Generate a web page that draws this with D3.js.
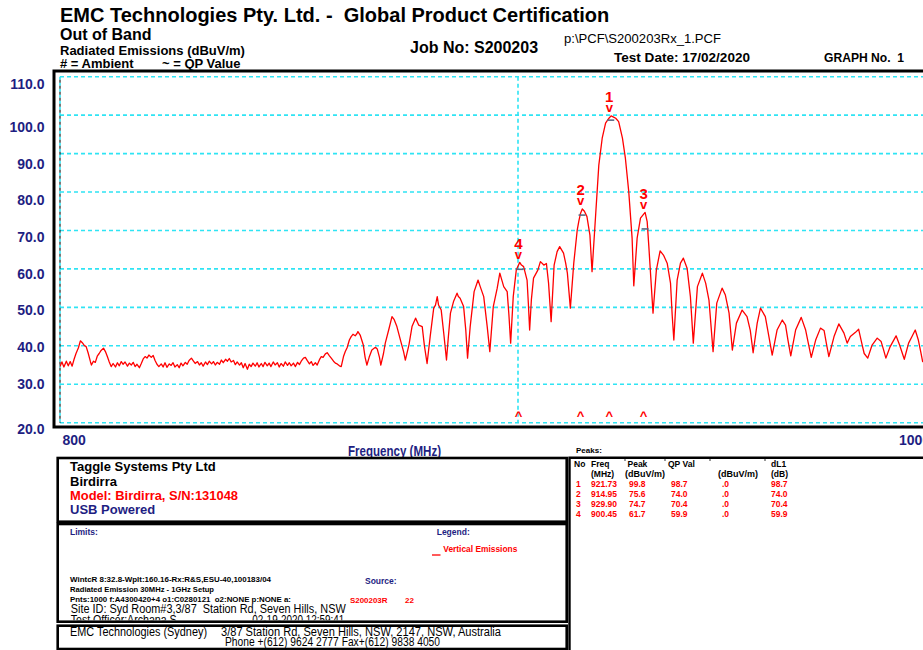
<!DOCTYPE html>
<html><head><meta charset="utf-8">
<script src="https://cdn.jsdelivr.net/npm/d3@7/dist/d3.min.js"></script>
<style>
body{margin:0;background:#fff;}
svg{display:block;font-family:"Liberation Sans",Arial,sans-serif;}
text{white-space:pre;}
</style></head><body>
<svg id="c" width="923" height="650"></svg>
<script>
// ---------- data ----------
const yTicks = [20,30,40,50,60,70,80,90,100,110];
const xTicks = [800,1000];
const xGrid = [900];
const traceMHz = [800.0,800.4,800.8,801.3,801.7,802.1,802.5,802.9,803.3,803.8,804.2,804.6,805.0,805.4,805.8,806.3,806.5,806.9,807.3,807.7,808.1,808.5,809.0,809.4,809.8,810.2,810.6,811.0,811.5,811.9,812.3,812.7,813.1,813.5,814.0,814.4,814.8,815.2,815.6,816.0,816.5,816.9,817.3,817.7,818.1,818.5,819.0,819.4,819.8,820.2,820.6,821.1,821.5,821.9,822.3,822.8,823.2,823.6,824.0,824.5,824.9,825.3,825.7,826.2,826.6,827.0,827.5,827.9,828.3,828.8,829.2,829.6,830.0,830.5,830.9,831.3,831.8,832.2,832.6,833.0,833.5,833.9,834.3,834.8,835.2,835.6,836.0,836.5,836.9,837.3,837.8,838.2,838.6,839.0,839.5,839.9,840.3,840.7,841.2,841.6,842.0,842.5,842.9,843.3,843.8,844.2,844.6,845.1,845.5,846.0,846.4,846.8,847.3,847.7,848.2,848.6,849.0,849.5,849.9,850.4,850.8,851.2,851.7,852.1,852.5,853.0,853.4,853.8,854.3,854.7,855.2,855.6,856.0,856.5,856.9,857.4,857.8,858.3,858.7,859.1,859.6,860.0,860.5,860.9,861.3,861.8,862.2,862.6,863.1,863.5,863.7,864.2,864.9,865.3,865.7,866.2,866.8,867.6,868.0,868.5,868.8,869.4,869.8,870.6,871.3,871.8,872.4,873.2,873.9,874.3,875.1,875.8,876.6,877.3,878.1,878.6,879.2,879.9,880.7,881.1,881.5,881.8,882.4,883.0,883.6,884.0,884.5,885.2,886.0,886.3,886.7,887.5,888.0,888.4,889.0,889.9,890.8,891.3,892.1,892.9,893.5,894.3,895.2,895.8,896.7,897.5,897.9,898.3,898.9,899.6,900.4,900.8,901.3,902.1,902.4,902.7,903.1,903.6,904.6,905.2,906.0,906.6,907.1,907.7,908.4,909.1,909.7,910.6,911.1,911.5,912.2,913.0,913.8,914.2,914.6,915.0,915.5,916.1,916.8,917.3,918.1,918.9,919.7,920.5,921.3,921.8,922.4,922.9,923.6,924.5,925.2,926.0,926.8,927.2,928.0,928.8,929.9,930.4,930.8,931.3,931.8,932.6,933.5,934.3,935.2,936.0,936.4,936.8,937.6,938.4,939.1,940.0,940.8,941.5,942.5,943.7,944.5,945.3,946.3,947.2,948.5,949.3,950.2,951.0,952.0,953.4,954.6,955.4,956.1,957.1,957.9,959.1,959.7,960.8,962.0,963.3,964.1,964.7,965.4,966.6,968.0,969.1,969.8,970.5,971.6,972.8,973.7,974.3,974.9,976.2,977.4,978.7,979.5,980.3,981.6,982.4,983.3,983.8,984.7,985.8,987.1,988.1,988.7,989.3,990.4,991.9,992.8,994.0,995.1,996.0,996.8,997.6,998.2,998.7,999.3,1000.0];
const traceDbuv = [34.6,35.8,34.5,36.0,34.8,35.9,34.7,36.5,38.0,39.5,41.3,40.8,40.1,39.8,38.2,35.8,35.0,36.0,35.7,37.3,38.0,38.8,39.4,38.5,37.2,35.8,34.6,35.4,34.5,35.6,34.8,35.9,35.2,35.8,34.7,35.5,35.0,35.7,34.6,35.2,34.3,35.4,36.6,37.2,36.8,37.6,37.0,37.5,36.2,35.2,34.6,35.3,34.5,35.6,34.4,35.3,34.9,35.6,34.5,35.1,34.3,35.5,34.8,35.7,35.2,36.2,36.8,36.1,35.4,35.9,35.0,35.6,34.7,35.8,35.1,36.0,35.3,35.9,35.0,35.7,35.2,36.3,35.6,36.5,36.0,36.7,35.8,36.2,35.1,35.8,35.0,35.6,34.3,35.4,33.9,35.2,34.6,35.5,34.7,35.6,34.5,35.4,34.6,35.7,34.8,35.5,34.6,35.8,35.0,35.6,34.5,35.4,34.7,35.8,34.9,35.6,34.8,35.5,34.6,35.7,35.1,36.0,36.8,37.0,36.2,35.3,35.9,34.9,35.6,35.0,36.4,37.2,37.0,37.9,38.2,37.4,36.8,36.0,35.5,35.3,34.8,34.6,37.2,38.5,39.5,41.5,42.4,43.0,42.6,43.2,43.7,42.8,40.2,37.0,35.0,37.0,38.9,39.6,39.2,37.0,35.0,38.0,40.7,44.3,47.6,46.8,45.0,41.5,38.5,36.3,40.2,45.0,47.2,45.4,45.0,40.0,35.4,42.4,49.8,50.6,52.8,50.6,49.3,43.0,36.3,42.0,48.5,51.5,53.7,52.8,52.4,50.2,44.0,36.8,45.0,54.1,57.1,55.4,52.8,45.0,38.5,50.2,55.0,58.9,55.4,54.1,48.0,40.7,52.8,59.7,61.7,61.0,60.6,57.1,51.0,44.1,52.0,57.6,59.7,61.9,61.0,61.4,56.3,46.3,61.0,64.5,65.8,64.1,61.5,58.9,49.8,61.5,70.0,72.5,74.5,75.6,75.0,73.6,68.8,59.3,73.2,87.0,94.0,97.9,99.2,99.8,99.5,99.2,98.3,94.0,88.8,80.1,68.0,55.6,68.0,73.2,74.7,72.3,65.8,57.1,48.5,59.7,64.7,63.6,61.5,56.3,48.0,41.5,57.1,61.5,62.8,60.2,52.8,40.7,55.4,58.9,56.3,51.9,38.5,51.1,55.0,53.2,48.5,38.9,45.9,49.3,47.6,44.0,38.2,45.9,49.8,47.6,44.1,37.6,44.1,46.7,45.4,41.5,37.4,44.1,47.4,44.1,40.5,37.0,41.5,44.6,44.0,40.5,37.2,42.4,45.7,43.3,40.7,42.4,43.5,44.3,40.2,38.0,36.8,40.2,42.0,41.1,39.0,36.8,39.8,42.6,40.2,36.5,40.7,42.5,44.1,41.5,38.5,35.9,36.5,37.5];
const peakNo = [1,2,3,4];
const peakMHz = [921.73,914.95,929.90,900.45];
const peakDbuv = [99.8,75.6,74.7,61.7];
const qpDbuv = [98.7,74.0,70.4,59.9];
const avgDbuv = [".0",".0",".0",".0"];
const dL1 = [98.7,74.0,70.4,59.9];

// ---------- setup ----------
const svg = d3.select("#c");
const RED = "#ff0000", NAVY = "#1e1e82", CYAN = "#2fe4f4";
const x = d3.scaleLog().domain([800,1000]).range([60,927.7]);
const y = d3.scaleLinear().domain([20,110]).range([422.7,76.7]);
const yLab = d3.scaleLinear().domain([20,30,100,110]).range([428.3,383.3,126.7,83.3]);

function txt(px,py,s,o){
  o=o||{};
  const t=svg.append("text").attr("x",px).attr("y",py).text(s)
    .attr("font-size",o.size||12).attr("font-weight",o.bold?"bold":"normal")
    .attr("fill",o.fill||"#000");
  if(o.anchor) t.attr("text-anchor",o.anchor);
  if(o.len) t.attr("textLength",o.len).attr("lengthAdjust","spacingAndGlyphs");
  if(o.clip) t.attr("clip-path",o.clip);
  return t;
}

// ---------- header ----------
txt(60,22,"EMC Technologies Pty. Ltd. -  Global Product Certification",{size:20,bold:true});
txt(60,40,"Out of Band",{size:16,bold:true});
txt(60,55,"Radiated Emissions (dBuV/m)",{size:13,bold:true});
txt(60,68,"# = Ambient",{size:13,bold:true});
txt(162,68,"~ = QP Value",{size:13,bold:true});
txt(410,53,"Job No: S200203",{size:16,bold:true});
txt(564,43,"p:\\PCF\\S200203Rx_1.PCF",{size:13,len:157});
txt(614,62,"Test Date: 17/02/2020",{size:13,bold:true,len:136});
txt(824,62,"GRAPH No.  1",{size:13,bold:true,len:80});

// ---------- grid ----------
const grid = svg.append("g");
grid.selectAll("line.h").data(yTicks).join("line").attr("class","h")
  .attr("x1",60).attr("x2",940).attr("y1",d=>y(d)).attr("y2",d=>y(d))
  .attr("stroke",CYAN).attr("stroke-width",1.6).attr("stroke-dasharray","4,3");
grid.selectAll("line.v").data(xGrid).join("line").attr("class","v")
  .attr("x1",d=>x(d)).attr("x2",d=>x(d)).attr("y1",y(110)).attr("y2",y(20))
  .attr("stroke",CYAN).attr("stroke-width",1.6).attr("stroke-dasharray","4,3");
grid.append("line").attr("x1",x(800)).attr("x2",x(800)).attr("y1",y(110)).attr("y2",y(20))
  .attr("stroke",CYAN).attr("stroke-width",1.6).attr("stroke-dasharray","3,3");
grid.append("line").attr("x1",x(800)).attr("x2",x(800)).attr("y1",y(110)+3).attr("y2",y(20))
  .attr("stroke","#222").attr("stroke-width",1.2).attr("stroke-dasharray","3,3");

// ---------- frame ----------
svg.append("rect").attr("x",54).attr("y",71).attr("width",900).attr("height",356)
  .attr("fill","none").attr("stroke","#000").attr("stroke-width",3);

// ---------- axes ----------
const ya = svg.append("g").attr("transform","translate(44.5,0)")
  .call(d3.axisLeft(yLab).tickValues(yTicks).tickFormat(d3.format(".1f")).tickSize(0).tickPadding(0));
ya.select(".domain").remove();
ya.selectAll("text").attr("font-size",14).attr("font-weight","bold").attr("fill",NAVY)
  .attr("font-family","Liberation Sans, Arial, sans-serif").attr("dy","0.34em");

const xa = svg.append("g").attr("transform","translate(0,445)")
  .call(d3.axisBottom(x).tickValues(xTicks).tickFormat(d3.format("d")).tickSize(0).tickPadding(0));
xa.select(".domain").remove();
xa.selectAll("text").attr("font-size",14).attr("font-weight","bold").attr("fill",NAVY)
  .attr("font-family","Liberation Sans, Arial, sans-serif").attr("dy",0).attr("y",0)
  .attr("text-anchor",(d,i)=>i===0?"start":"end").attr("dx",2);

txt(348,456,"Frequency (MHz)",{size:14,bold:true,fill:NAVY,len:93});

// ---------- trace ----------
const pts = traceMHz.map((f,i)=>[f,traceDbuv[i]]);
svg.append("path").datum(pts)
  .attr("d",d3.line().x(d=>x(d[0])).y(d=>y(d[1])))
  .attr("fill","none").attr("stroke",RED).attr("stroke-width",1.3).attr("stroke-linejoin","round");

// ---------- peak markers ----------
const pk = peakNo.map((n,i)=>({n,f:peakMHz[i],p:peakDbuv[i],q:qpDbuv[i]}));
const mk = svg.append("g");
mk.selectAll("line.qp").data(pk).join("line").attr("class","qp")
  .attr("x1",d=>x(d.f)-3.5).attr("x2",d=>x(d.f)+3.5).attr("y1",d=>y(d.q)).attr("y2",d=>y(d.q))
  .attr("stroke","#5a6a86").attr("stroke-width",1.6);
mk.selectAll("text.num").data(pk).join("text").attr("class","num")
  .attr("x",d=>x(d.f)-1.5).attr("y",d=>y(d.p)-13.5).text(d=>d.n)
  .attr("text-anchor","middle").attr("font-size",15).attr("font-weight","bold").attr("fill",RED);
mk.selectAll("text.v").data(pk).join("text").attr("class","v")
  .attr("x",d=>x(d.f)-1.5).attr("y",d=>y(d.p)-3.8).text("v")
  .attr("text-anchor","middle").attr("font-size",13).attr("font-weight","bold").attr("fill",RED);
mk.selectAll("text.caret").data(pk).join("text").attr("class","caret")
  .attr("x",d=>x(d.f)-1.5).attr("y",420).text("^")
  .attr("text-anchor","middle").attr("font-size",13).attr("font-weight","bold").attr("fill",RED);

// ---------- lower boxes ----------
function box(x0,y0,x1,y1){
  svg.append("rect").attr("x",x0).attr("y",y0).attr("width",x1-x0).attr("height",y1-y0)
    .attr("fill","none").attr("stroke","#000").attr("stroke-width",2.6);
}
// box 1
txt(70,470.7,"Taggle Systems Pty Ltd",{size:13,bold:true});
txt(70,485.7,"Birdirra",{size:13,bold:true});
txt(70,500.3,"Model: Birdirra, S/N:131048",{size:13,bold:true,fill:RED,len:168});
txt(70,514.3,"USB Powered",{size:13,bold:true,fill:NAVY});
box(57.7,458,566.7,521.7);

// box 2
svg.append("clipPath").attr("id","b2").append("rect").attr("x",58).attr("y",524).attr("width",508).attr("height",96.3);
txt(70,535,"Limits:",{size:8.5,bold:true,fill:NAVY});
txt(436.7,535,"Legend:",{size:8.5,bold:true,fill:NAVY});
svg.append("line").attr("x1",432).attr("x2",440.5).attr("y1",555).attr("y2",555).attr("stroke",RED).attr("stroke-width",1.3);
txt(443.3,552.3,"Vertical Emissions",{size:8.5,fill:RED,len:74,bold:true});
txt(70,582.3,"WintcR 8:32.8-Wplt:160.16-Rx:R&S,ESU-40,100183/04",{size:7,bold:true,len:201});
txt(70,591.7,"Radiated Emission 30MHz - 1GHz Setup",{size:7,bold:true,len:144});
txt(70,601.7,"Pnts:1000 f:A4300420+4 o1:C0280121  o2:NONE p:NONE a:",{size:7,bold:true,len:221});
txt(365,584.3,"Source:",{size:8.5,bold:true,fill:NAVY});
txt(350,602.7,"S200203R",{size:8,bold:true,fill:RED,len:37.5});
txt(405,602.7,"22",{size:8,bold:true,fill:RED});
txt(70.7,613.3,"Site ID: Syd Room#3,3/87  Station Rd, Seven Hills, NSW",{size:12,len:275});
txt(70.7,623.5,"Test Officer:Archana S",{size:12,len:106,clip:"url(#b2)"});
txt(252.3,623.5,"02-19-2020 12:59:41",{size:12,len:92,clip:"url(#b2)"});
box(57.7,524,566.7,621.7);

// box 3
txt(70,636,"EMC Technologies (Sydney)",{size:12,len:137});
txt(221,636,"3/87 Station Rd, Seven Hills, NSW, 2147, NSW, Australia",{size:12,len:280});
txt(225,645.5,"Phone +(612) 9624 2777 Fax+(612) 9838 4050",{size:12,len:215});
box(57.7,625.7,566.7,649);

// ---------- peaks table ----------
txt(576,453,"Peaks:",{size:8,bold:true});
svg.append("path").attr("d","M569.5,662 V457.7 H940").attr("fill","none").attr("stroke","#000").attr("stroke-width",2.4);
[625,665,710,765].forEach(cx=>svg.append("line").attr("x1",cx).attr("x2",cx).attr("y1",457.7).attr("y2",461).attr("stroke","#000").attr("stroke-width",0.8));
const H1=466.5, H2=476.5;
txt(574,H1,"No",{size:8.5,bold:true});
txt(591,H1,"Freq",{size:8.5,bold:true});
txt(627.5,H1,"Peak",{size:8.5,bold:true});
txt(668,H1,"QP Val",{size:8.5,bold:true});
txt(771,H1,"dL1",{size:8.5,bold:true});
txt(591,H2,"(MHz)",{size:8.5,bold:true});
txt(625,H2,"(dBuV/m)",{size:8.5,bold:true,len:40});
txt(718,H2,"(dBuV/m)",{size:8.5,bold:true,len:40});
txt(771,H2,"(dB)",{size:8.5,bold:true});
const rowY = d3.scaleLinear().domain([0,3]).range([486.5,516.5]);
const rows = svg.append("g").attr("fill",RED).attr("font-size",8.5).attr("font-weight","bold");
pk.forEach((d,i)=>{
  const yy=rowY(i);
  const cols=[[576,String(d.n)],[591,d.f.toFixed(2)],[629,d.p.toFixed(1)],[671,d.q.toFixed(1)],[722,avgDbuv[i]],[771,dL1[i].toFixed(1)]];
  cols.forEach(c=>rows.append("text").attr("x",c[0]).attr("y",yy).text(c[1]));
});
</script>
</body></html>
